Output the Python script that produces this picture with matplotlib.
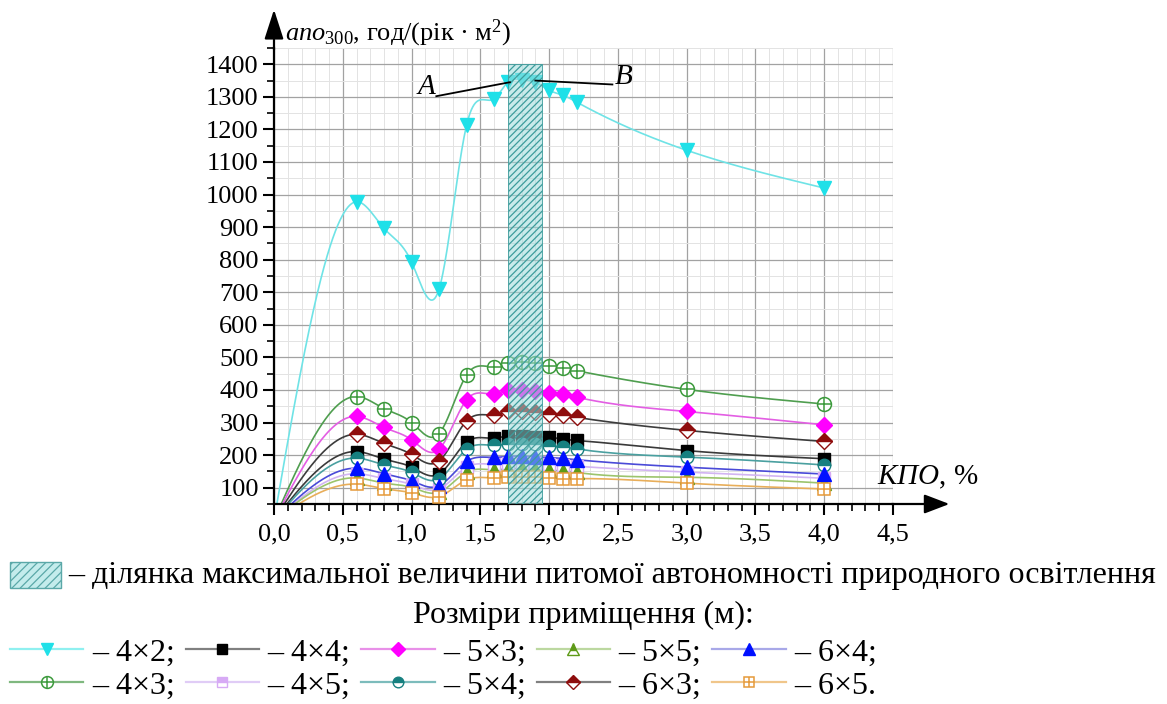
import numpy as np
import matplotlib
matplotlib.use('Agg')
import matplotlib.pyplot as plt
from matplotlib.lines import Line2D
from matplotlib.legend_handler import HandlerTuple
from matplotlib.ticker import MultipleLocator, FuncFormatter
from matplotlib.patches import Rectangle

plt.rcParams['font.family'] = ['Liberation Serif', 'DejaVu Serif']
plt.rcParams['mathtext.fontset'] = 'custom'
plt.rcParams['mathtext.rm'] = 'Liberation Serif'
plt.rcParams['mathtext.it'] = 'Liberation Serif:italic'
plt.rcParams['hatch.linewidth'] = 0.9

# ---------------- data ----------------
KPO = [0.6, 0.8, 1.0, 1.2, 1.4, 1.6, 1.7, 1.8, 1.9, 2.0, 2.1, 2.2, 3.0, 4.0]
ORIGIN_X = 0.0
ORIGIN_Y = 0.0

ano_4x2 = [978, 896, 793, 710, 1213, 1294, 1345, 1353, 1345, 1320, 1305, 1284, 1136, 1020]
ano_4x3 = [380, 343, 300, 266, 446, 472, 484, 486, 484, 475, 467, 459, 402, 357]
ano_5x3 = [319, 285, 247, 218, 370, 388, 400, 401, 397, 392, 387, 378, 334, 293]
ano_6x3 = [264, 236, 202, 182, 305, 324, 334, 335, 331, 326, 322, 316, 276, 242]
ano_4x4 = [211, 188, 163, 142, 240, 252, 259, 258, 256, 255, 249, 245, 214, 189]
ano_5x4 = [191, 170, 147, 127, 218, 230, 234, 235, 233, 229, 225, 219, 194, 170]
ano_6x4 = [160, 143, 121, 106, 181, 193, 196, 197, 195, 193, 190, 186, 163, 142]
ano_4x5 = [143, 128, 110, 96, 163, 172, 175, 176, 175, 172, 169, 166, 148, 129]
ano_5x5 = [130, 114, 101, 86, 148, 155, 158, 159, 157, 153, 152, 147, 132, 114]
ano_6x5 = [111, 97, 84, 73, 124, 130, 132, 133, 132, 130, 128, 128, 114, 96]

HATCH_RANGE = (1.7, 1.95)
HATCH_TOP = 1400

ROOMS = ['4×2', '4×3', '4×4', '4×5', '5×3', '5×4', '5×5', '6×3', '6×4', '6×5']
VALUES = {'4×2': ano_4x2, '4×3': ano_4x3, '4×4': ano_4x4, '4×5': ano_4x5,
          '5×3': ano_5x3, '5×4': ano_5x4, '5×5': ano_5x5, '6×3': ano_6x3,
          '6×4': ano_6x4, '6×5': ano_6x5}

X_TICKS = [0.0, 0.5, 1.0, 1.5, 2.0, 2.5, 3.0, 3.5, 4.0, 4.5]
Y_TICKS = [100, 200, 300, 400, 500, 600, 700, 800, 900, 1000, 1100, 1200, 1300, 1400]

# ---------------- styles ----------------
STYLE = {
    '4×2': dict(lc='#6fe3e6', mc='#1fe0e8', marker='v', ms=10.5, fill='full', alt='none', extra=None),
    '4×3': dict(lc='#4f9e4f', mc='#3c9a3c', marker='o', ms=10, fill='none', alt='none', extra='+'),
    '4×4': dict(lc='#3a3a3a', mc='#000000', marker='s', ms=8.5, fill='full', alt='none', extra=None),
    '4×5': dict(lc='#d2b4f2', mc='#d7aaf5', marker='s', ms=8.5, fill='top', alt='white', extra=None),
    '5×3': dict(lc='#e35ee3', mc='#ff00ff', marker='D', ms=8.5, fill='full', alt='none', extra=None),
    '5×4': dict(lc='#4aa0a0', mc='#178080', marker='o', ms=9, fill='top', alt='white', extra=None),
    '5×5': dict(lc='#9cc46c', mc='#5e9a18', marker='^', ms=9.5, fill='top', alt='white', extra=None),
    '6×3': dict(lc='#3c3c3c', mc='#8e0d0d', marker='D', ms=8.5, fill='top', alt='white', extra=None),
    '6×4': dict(lc='#4a4ad8', mc='#0010ff', marker='^', ms=10, fill='full', alt='none', extra=None),
    '6×5': dict(lc='#e8ae5a', mc='#e59a3a', marker='s', ms=8.5, fill='none', alt='none', extra='+'),
}
LEGEND_LINE = {'4×4': '#808080', '6×3': '#808080', '6×4': '#a8a8e8', '5×5': '#bcd8a0',
               '4×2': '#8ff0f0', '4×3': '#7fb87f', '5×3': '#e890e8', '4×5': '#e0ccf6',
               '5×4': '#7cbcbc', '6×5': '#f0c68a'}


def natural_spline(x, y, xs):
    x = np.asarray(x, float)
    y = np.asarray(y, float)
    n = len(x)
    h = np.diff(x)
    A = np.zeros((n, n))
    b = np.zeros(n)
    A[0, 0] = 1.0
    A[-1, -1] = 1.0
    for i in range(1, n - 1):
        A[i, i - 1] = h[i - 1]
        A[i, i] = 2 * (h[i - 1] + h[i])
        A[i, i + 1] = h[i]
        b[i] = 3 * ((y[i + 1] - y[i]) / h[i] - (y[i] - y[i - 1]) / h[i - 1])
    c = np.linalg.solve(A, b)
    idx = np.clip(np.searchsorted(x, xs) - 1, 0, n - 2)
    dx = xs - x[idx]
    bb = (y[idx + 1] - y[idx]) / h[idx] - h[idx] * (2 * c[idx] + c[idx + 1]) / 3
    dd = (c[idx + 1] - c[idx]) / (3 * h[idx])
    return y[idx] + bb * dx + c[idx] * dx ** 2 + dd * dx ** 3


W, H = 1167, 704
fig = plt.figure(figsize=(W / 100, H / 100), dpi=100)
ax = fig.add_axes([274 / W, (H - 504) / H, (893 - 274) / W, (504 - 48) / H])
ax.set_xlim(0, 4.5)
ax.set_ylim(50, 1450)

# grid
ax.xaxis.set_major_locator(plt.FixedLocator(X_TICKS))
ax.yaxis.set_major_locator(plt.FixedLocator(Y_TICKS))
ax.xaxis.set_minor_locator(MultipleLocator(0.1))
ax.yaxis.set_minor_locator(MultipleLocator(50))
ax.grid(which='major', color='#a2a2a2', lw=0.9, zorder=0)
ax.grid(which='minor', color='#e3e3e3', lw=0.7, zorder=0)
ax.set_axisbelow(True)

ax.xaxis.set_major_formatter(FuncFormatter(lambda v, p: f'{v:.1f}'.replace('.', ',')))
ax.yaxis.set_major_formatter(FuncFormatter(lambda v, p: f'{v:.0f}'))
ax.tick_params(which='major', direction='out', length=8, width=1.5, labelsize=19, pad=3)
ax.tick_params(which='minor', direction='out', length=5, width=1.2)
ax.tick_params(axis='x', which='major', pad=6)

for s in ['top', 'right']:
    ax.spines[s].set_visible(False)
for s in ['left', 'bottom']:
    ax.spines[s].set_linewidth(1.6)

# arrows extending the axes
ax.annotate('', xy=(4.91, 50), xytext=(4.49, 50), annotation_clip=False,
            arrowprops=dict(arrowstyle='-|>,head_length=1.1,head_width=0.42', color='black',
                            lw=1.6, mutation_scale=14, shrinkA=0, shrinkB=0))
ax.annotate('', xy=(0, 1568), xytext=(0, 1445), annotation_clip=False,
            arrowprops=dict(arrowstyle='-|>,head_length=1.3,head_width=0.42', color='black',
                            lw=1.6, mutation_scale=14, shrinkA=0, shrinkB=0))

# curves and markers
xs = np.linspace(0, max(KPO), 1200)
for room in ROOMS:
    st = STYLE[room]
    vals = VALUES[room]
    xl = [ORIGIN_X] + KPO
    yl = [ORIGIN_Y] + vals
    ax.plot(xs, natural_spline(xl, yl, xs), color=st['lc'], lw=1.2, zorder=2)
    if st['fill'] == 'none':
        ax.plot(KPO, vals, ls='none', marker=st['marker'], ms=st['ms'], mfc='white',
                mec=st['mc'], mew=1.1, zorder=3)
    else:
        ax.plot(KPO, vals, ls='none', marker=st['marker'], ms=st['ms'], mfc=st['mc'],
                mec=st['mc'], mew=1.0, fillstyle=st['fill'], markerfacecoloralt=st['alt'],
                zorder=3)
    if st['extra']:
        ax.plot(KPO, vals, ls='none', marker=st['extra'], ms=st['ms'] * 0.95,
                mec=st['mc'], mew=1.1, zorder=3.1)

# hatched zone
ax.bar(HATCH_RANGE[0], HATCH_TOP - 50, bottom=50, width=HATCH_RANGE[1] - HATCH_RANGE[0],
       align='edge', facecolor=(0.62, 0.86, 0.86, 0.55), edgecolor='#3d9c9c',
       hatch='/////', lw=0.6, zorder=4)

# A / B annotations
ax.plot([1.18, 1.715], [1302, 1345], color='black', lw=1.3, zorder=5)
ax.plot([1.90, 2.46], [1350, 1338], color='black', lw=1.3, zorder=5)
ax.text(1.11, 1330, 'A', fontsize=21, style='italic', ha='center', va='center', zorder=6)
ax.text(2.54, 1360, 'B', fontsize=21, style='italic', ha='center', va='center', zorder=6)

# axis titles
ax.text(0.08, 1495, r'$\mathit{ano}_{300}$, год/(рік · м$^2$)', fontsize=19,
        ha='left', va='center', clip_on=False)
ax.text(4.75, 131, r'$\mathit{КПО}$, %', fontsize=21, ha='center', va='center', clip_on=False)

# legend: hatch description
fig.add_artist(Rectangle((10 / W, (H - 588) / H), 51 / W, 26 / H, transform=fig.transFigure,
                         facecolor='#c4ecec', edgecolor='#5aa8a8', hatch='////', lw=1.0))
fig.text(68 / W, (H - 576) / H,
         '– ділянка максимальної величини питомої автономності природного освітлення',
         fontsize=23, ha='left', va='center')
fig.text(0.5, (H - 615) / H, 'Розміри приміщення (м):', fontsize=23, ha='center', va='center')

# legend of series
handles = []
labels = []
for i, room in enumerate(ROOMS):
    st = STYLE[room]
    lcol = LEGEND_LINE[room]
    if st['fill'] == 'none':
        h1 = Line2D([], [], color=lcol, lw=1.6, marker=st['marker'], ms=st['ms'] * 0.85,
                    mfc='white', mec=st['mc'], mew=1.1)
    else:
        h1 = Line2D([], [], color=lcol, lw=1.6, marker=st['marker'], ms=st['ms'] * 0.85,
                    mfc=st['mc'], mec=st['mc'], fillstyle=st['fill'],
                    markerfacecoloralt=st['alt'])
    if st['extra']:
        h2 = Line2D([], [], ls='none', marker=st['extra'], ms=st['ms'] * 0.8, mec=st['mc'], mew=1.1)
        handles.append((h1, h2))
    else:
        handles.append(h1)
    end = '.' if i == len(ROOMS) - 1 else ';'
    labels.append(f'– {room}{end}')

fig.legend(handles, labels, ncol=5, loc='upper left', bbox_to_anchor=(10 / W, (H - 638) / H),
           frameon=False, fontsize=23, handlelength=2.3, handletextpad=0.27,
           columnspacing=0.33, labelspacing=0.12, borderpad=0, borderaxespad=0,
           handler_map={tuple: HandlerTuple(ndivide=1)})

fig.savefig('out.png', dpi=100)
